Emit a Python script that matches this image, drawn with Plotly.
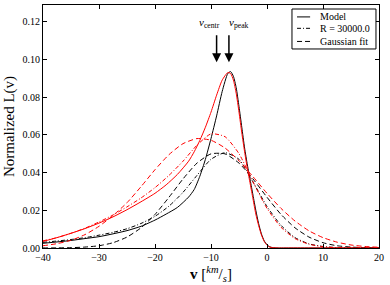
import plotly.graph_objects as go

# ---- data ----
v_model = [-40, -37.5, -35, -32.5, -30, -27.5, -25, -22.5, -20, -18, -16, -14, -13, -12, -11, -10, -9, -8, -7,
           -6.5, -6, -5.5, -5, -4.5, -4, -3.5, -3, -2.5, -2, -1.5, -1, -0.5, 0, 0.5, 1, 2, 5, 10, 15, 20]
model_black = [0.0025, 0.0032, 0.004, 0.005, 0.006, 0.0075, 0.0092, 0.0115, 0.0148, 0.018, 0.0215, 0.027, 0.031,
               0.038, 0.047, 0.058, 0.070, 0.083, 0.0925, 0.0935, 0.091, 0.085, 0.075, 0.064, 0.053, 0.044, 0.036,
               0.028, 0.020, 0.013, 0.0075, 0.0038, 0.0017, 0.0006, 0.0002, 0.0, 0.0, 0.0, 0.0, 0.0]
model_red = [0.0035, 0.0055, 0.0078, 0.0103, 0.0132, 0.0165, 0.0203, 0.0245, 0.029, 0.0335, 0.039, 0.046, 0.051,
             0.057, 0.064, 0.072, 0.081, 0.089, 0.093, 0.0925, 0.089, 0.082, 0.072, 0.061, 0.051, 0.042, 0.034,
             0.026, 0.018, 0.012, 0.007, 0.0035, 0.0015, 0.0005, 0.0002, 0.0, 0.0, 0.0, 0.0, 0.0]

v_broad = [-40, -37.5, -35, -32.5, -30, -27.5, -25, -22.5, -20, -17.5, -15, -12.5, -10, -7.5, -5, -2.5,
           0, 2.5, 5, 7.5, 10, 12.5, 15, 17.5, 20]
conv_black = [0.003, 0.0037, 0.0045, 0.0055, 0.0068, 0.0083, 0.0102, 0.013, 0.0168, 0.0222, 0.0295, 0.0385,
              0.047, 0.0505, 0.047, 0.035, 0.022, 0.012, 0.0055, 0.0022, 0.0008, 0.0002, 0.00005, 0.0, 0.0]
conv_red = [0.0038, 0.0055, 0.0078, 0.0105, 0.0138, 0.0175, 0.0218, 0.0265, 0.032, 0.0385, 0.046, 0.0545,
            0.0605, 0.059, 0.050, 0.035, 0.021, 0.011, 0.005, 0.002, 0.0007, 0.0002, 0.00005, 0.0, 0.0]
gauss_black = [0.00002, 0.00006, 0.00018, 0.0005, 0.0012, 0.0028, 0.0058, 0.0107, 0.0178, 0.0269, 0.0366, 0.045,
               0.0499, 0.0499, 0.045, 0.0366, 0.0269, 0.0178, 0.0107, 0.0058, 0.0028, 0.0012, 0.0005, 0.00018,
               0.00006]
gauss_red = [0.0012, 0.0023, 0.0041, 0.0071, 0.0115, 0.0172, 0.0240, 0.0325, 0.0415, 0.0495, 0.0553, 0.058,
             0.0571, 0.0530, 0.0462, 0.0378, 0.0290, 0.0210, 0.0143, 0.0091, 0.0055, 0.0031, 0.0016, 0.0008,
             0.0004]

legend_labels = ["Model", "R = 30000.0", "Gaussian fit"]
x_ticks = [-40, -30, -20, -10, 0, 10, 20]
y_ticks = [0.00, 0.02, 0.04, 0.06, 0.08, 0.10, 0.12]
v_centr = -9.0
v_peak = -6.8

FONT = "Liberation Serif"
DASHDOT = "4px,2px,1px,2px"
DASH = "5px,3px"

fig = go.Figure()

def add(x, y, color, dash, name):
    fig.add_trace(go.Scatter(x=x, y=y, mode="lines", name=name, showlegend=False,
                             line=dict(color=color, width=1, dash=dash, shape="spline", smoothing=0.6)))

add(v_model, model_black, "black", "solid", legend_labels[0])
add(v_broad, conv_black, "black", DASHDOT, legend_labels[1])
add(v_broad, gauss_black, "black", DASH, legend_labels[2])
add(v_model, model_red, "red", "solid", legend_labels[0] + " (red)")
add(v_broad, conv_red, "red", DASHDOT, legend_labels[1] + " (red)")
add(v_broad, gauss_red, "red", DASH, legend_labels[2] + " (red)")

# arrows and labels
for xv in (v_centr, v_peak):
    fig.add_annotation(x=xv, y=0.0985, ax=xv, ay=0.1135, xref="x", yref="y", axref="x", ayref="y",
                       showarrow=True, arrowhead=2, arrowsize=1.2, arrowwidth=1.5, arrowcolor="black", text="")
fig.add_annotation(x=v_centr - 1.2, y=0.1195, text="<i>v</i><sub>centr</sub>", showarrow=False,
                   font=dict(family=FONT, size=11, color="black"))
fig.add_annotation(x=v_peak + 1.8, y=0.1195, text="<i>v</i><sub>peak</sub>", showarrow=False,
                   font=dict(family=FONT, size=11, color="black"))

# legend box (matplotlib-style, compact)
fig.add_shape(type="rect", xref="paper", yref="paper", x0=0.741, x1=0.991, y0=0.819, y1=0.9835,
              line=dict(color="black", width=1), fillcolor="white", layer="above")
row_y = [0.951, 0.904, 0.850]
for lab, ry, dsh in zip(legend_labels, row_y, ["solid", DASHDOT, DASH]):
    fig.add_shape(type="line", xref="paper", yref="paper", x0=0.756, x1=0.795, y0=ry, y1=ry,
                  line=dict(color="black", width=1, dash=dsh), layer="above")
    fig.add_annotation(xref="paper", yref="paper", x=0.818, y=ry, text=lab, showarrow=False,
                       xanchor="left", yanchor="middle", font=dict(family=FONT, size=10, color="black"))

axis_common = dict(showgrid=False, zeroline=False, ticks="inside", ticklen=4, tickwidth=1, tickcolor="black",
                   showline=True, linecolor="black", linewidth=1, mirror="ticks",
                   tickfont=dict(family=FONT, size=10, color="black"))

fig.update_xaxes(range=[-40, 20], tickvals=x_ticks,
                 ticktext=[("\u2212" + str(-t)) if t < 0 else str(t) for t in x_ticks],
                 title=dict(text="<b>v</b> [<sup><i>km</i></sup>/<sub><i>s</i></sub>]", standoff=6,
                            font=dict(family=FONT, size=15, color="black")), **axis_common)
fig.update_yaxes(range=[0, 0.1288], tickvals=y_ticks, ticktext=[f"{t:.2f}" for t in y_ticks],
                 title=dict(text="Normalized L(v)", standoff=4, font=dict(family=FONT, size=15, color="black")),
                 **axis_common)

fig.update_layout(width=390, height=285, margin=dict(l=43, r=11, t=5, b=37),
                  plot_bgcolor="white", paper_bgcolor="white", showlegend=False)

fig.write_html("out.html", config={"displayModeBar": False},
               post_script="document.body.style.margin='0';document.body.style.padding='0';")
